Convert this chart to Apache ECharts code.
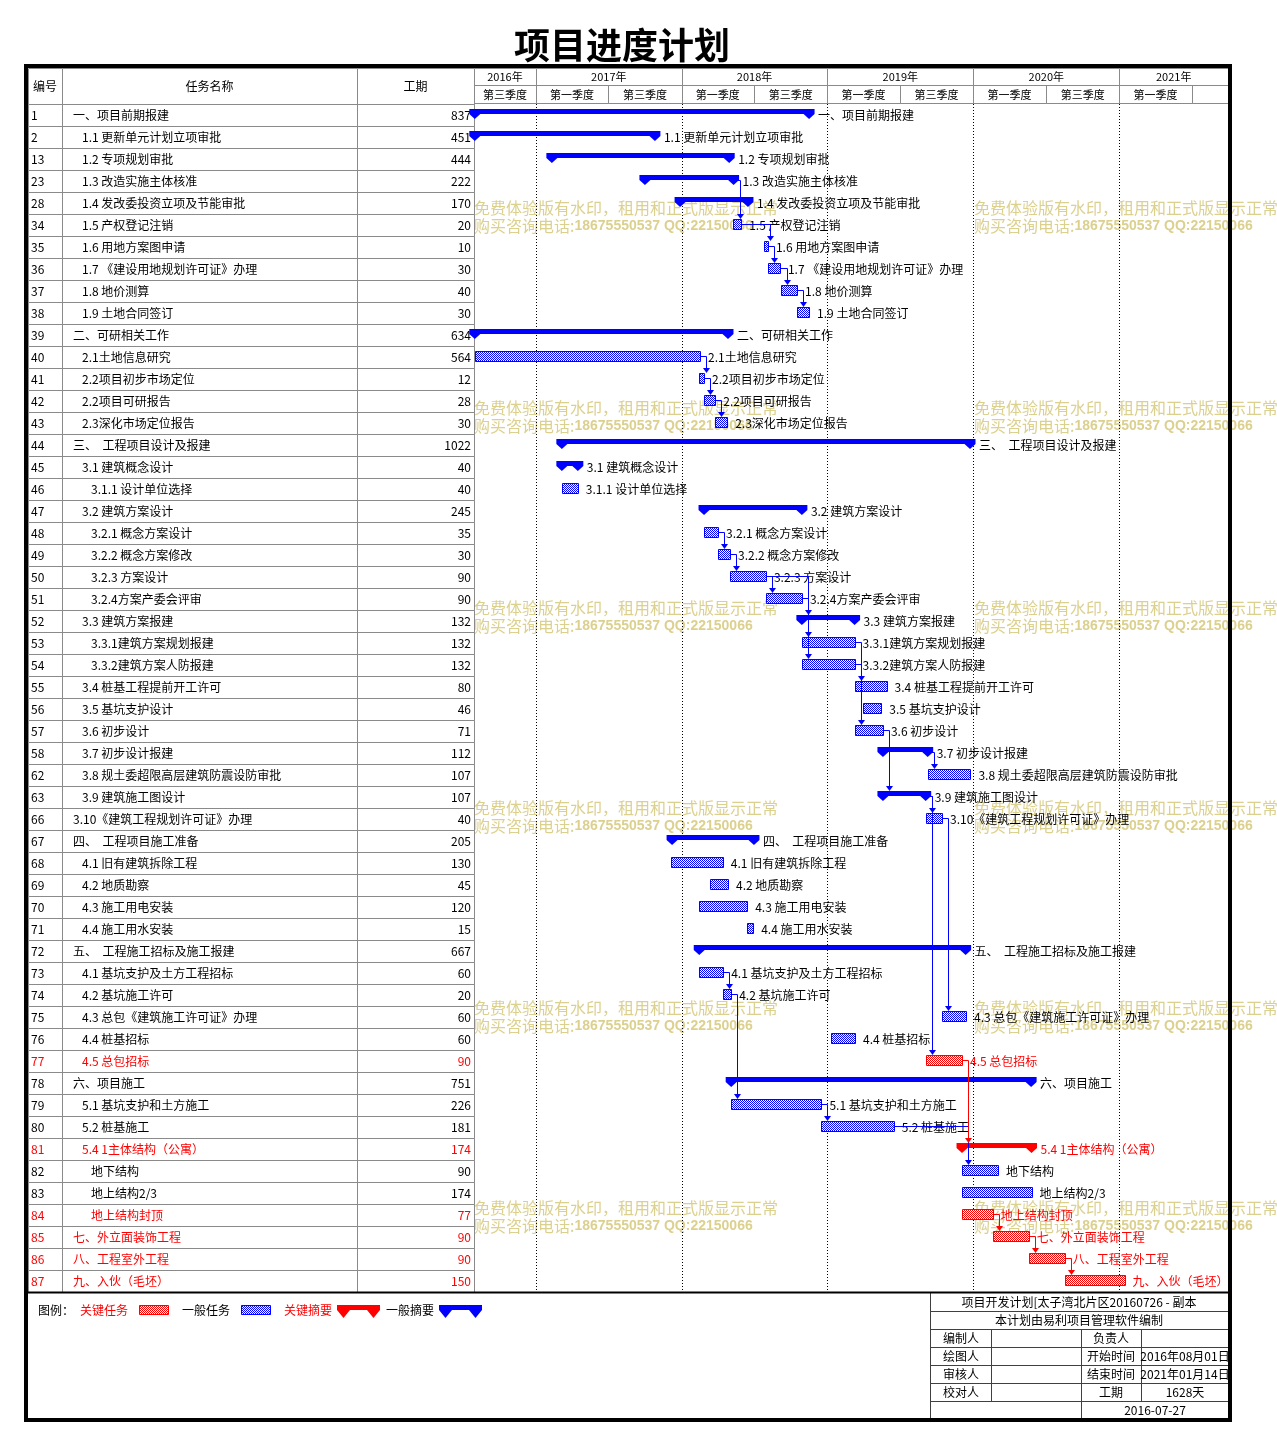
<!DOCTYPE html>
<html><head><meta charset="utf-8">
<script src="https://cdn.jsdelivr.net/npm/echarts@6/dist/echarts.min.js"></script>
<style>html,body{margin:0;padding:0;background:#fff}#c{width:1277px;height:1445px}</style>
</head><body><div id="c"></div>
<script>
// ---------------- DATA ----------------
const ids = [1,2,13,23,28,34,35,36,37,38,39,40,41,42,43,44,45,46,47,48,49,50,51,52,53,54,55,56,57,58,62,63,66,67,68,69,70,71,72,73,74,75,76,77,78,79,80,81,82,83,84,85,86,87];
const names = [
 '一、项目前期报建','1.1 更新单元计划立项审批','1.2 专项规划审批','1.3 改造实施主体核准','1.4 发改委投资立项及节能审批',
 '1.5 产权登记注销','1.6 用地方案图申请','1.7 《建设用地规划许可证》办理','1.8 地价测算','1.9 土地合同签订',
 '二、可研相关工作','2.1土地信息研究','2.2项目初步市场定位','2.2项目可研报告','2.3深化市场定位报告',
 '三、  工程项目设计及报建','3.1 建筑概念设计','3.1.1 设计单位选择','3.2 建筑方案设计','3.2.1 概念方案设计',
 '3.2.2 概念方案修改','3.2.3 方案设计','3.2.4方案产委会评审','3.3 建筑方案报建','3.3.1建筑方案规划报建',
 '3.3.2建筑方案人防报建','3.4 桩基工程提前开工许可','3.5 基坑支护设计','3.6 初步设计','3.7 初步设计报建',
 '3.8 规土委超限高层建筑防震设防审批','3.9 建筑施工图设计','3.10《建筑工程规划许可证》办理','四、  工程项目施工准备','4.1 旧有建筑拆除工程',
 '4.2 地质勘察','4.3 施工用电安装','4.4 施工用水安装','五、  工程施工招标及施工报建','4.1 基坑支护及土方工程招标',
 '4.2 基坑施工许可','4.3 总包《建筑施工许可证》办理','4.4 桩基招标','4.5 总包招标','六、项目施工',
 '5.1 基坑支护和土方施工','5.2 桩基施工','5.4 1主体结构（公寓）','地下结构','地上结构2/3',
 '地上结构封顶','七、外立面装饰工程','八、工程室外工程','九、入伙（毛坯）'
];
const levels = [0,1,1,1,1,1,1,1,1,1, 0,1,1,1,1, 0,1,2,1,2, 2,2,2,1,2, 2,1,1,1,1, 1,1,0,0,1, 1,1,1,0,1, 1,1,1,1,0, 1,1,1,2,2, 2,0,0,0];
const durations = [837,451,444,222,170,20,10,30,40,30, 634,564,12,28,30, 1022,40,40,245,35, 30,90,90,132,132, 132,80,46,71,112, 107,107,40,205,130, 45,120,15,667,60, 20,60,60,90,751, 226,181,174,90,174, 77,90,90,150];
const starts = [
 '2016-08-01','2016-08-01','2017-02-10','2017-10-01','2017-12-28','2018-05-10','2018-07-26','2018-08-05','2018-09-07','2018-10-17',
 '2016-08-01','2016-08-01','2018-02-14','2018-02-26','2018-03-26',
 '2017-03-07','2017-03-07','2017-03-07','2018-02-26','2018-02-26',
 '2018-04-02','2018-05-02','2018-07-31','2018-10-29','2018-10-29',
 '2018-10-29','2019-03-10','2019-03-31','2019-03-10','2019-05-20',
 '2019-09-09','2019-05-20','2019-09-05','2017-12-08','2017-12-05',
 '2018-03-13','2018-02-14','2018-06-14','2018-02-14','2018-02-14',
 '2018-04-15','2019-10-15','2019-01-10','2019-09-05','2018-05-05',
 '2018-05-05','2018-12-17','2019-12-04','2019-12-04','2019-12-04',
 '2019-12-04','2020-02-19','2020-05-19','2020-08-17'
];
// S = summary, T = task
const kinds = ['S','S','S','S','S','T','T','T','T','T', 'S','T','T','T','T', 'S','S','T','S','T', 'T','T','T','S','T', 'T','T','T','T','S', 'T','S','T','S','T', 'T','T','T','S','T', 'T','T','T','T','S', 'T','T','S','T','T', 'T','T','T','T'];
const criticalIds = [77,81,84,85,86,87];
// dependency links, by task id: [predecessor, successor]
const links = [[23,34],[34,35],[35,36],[36,37],[37,38],[40,41],[41,42],[42,43],[48,49],[49,50],[50,51],[50,52],[51,53],[51,54],
 [53,55],[54,57],[57,63],[58,62],[63,66],[63,77],[66,75],[73,74],[74,79],[79,80],[80,82],[77,81],[84,85],[85,86],[86,87]];
const years = [2016,2017,2018,2019,2020,2021];
const yearLabels = ['2016年','2017年','2018年','2019年','2020年','2021年'];
const halfLabels = ['第一季度','第三季度'];
const axisStart = '2016-07-30', axisEnd = '2021-09-30';
const tableHead = ['编号','任务名称','工期'];
const legendItems = ['关键任务','一般任务','关键摘要','一般摘要'];
const infoTitle = '项目开发计划[太子湾北片区20160726 - 副本';
const infoSub = '本计划由易利项目管理软件编制';
const infoRows = [['编制人','负责人',''],['绘图人','开始时间','2016年08月01日'],['审核人','结束时间','2021年01月14日'],['校对人','工期','1628天']];
const infoDate = '2016-07-27';
const wmLine1 = '免费体验版有水印，租用和正式版显示正常';
const wmLine2a = '购买咨询电话:', wmLine2b = '18675550537 QQ:22150066';

// ---------------- HELPERS ----------------
const FONT = '"Noto Sans CJK SC", "Noto Sans", sans-serif';
const DAY = 86400000;
function ts(s){ const p = s.split('-').map(Number); return new Date(p[0], p[1]-1, p[2]).getTime(); }
const T0 = ts(axisStart), T1 = ts(axisEnd);
const isCrit = ids.map(id => criticalIds.indexOf(id) >= 0);
const startTs = starts.map(ts);
const endTs = startTs.map((s,i) => s + durations[i]*DAY);
const rowCats = ids.map(String);
function checker(color){
  const c = document.createElement('canvas'); c.width = 2; c.height = 2;
  const g = c.getContext('2d'); g.fillStyle = '#ffffff'; g.fillRect(0,0,2,2);
  g.fillStyle = color; g.fillRect(0,0,1,1); g.fillRect(1,1,1,1);
  return {image: c, repeat: 'repeat'};
}
const bluePat = checker('#0000ff'), redPat = checker('#ff0000');
const GRAY = '#8a8a8a';

// header cells
const headerCells = [];
years.forEach((y,k) => {
  headerCells.push({s: new Date(y,0,1).getTime(), e: new Date(y+1,0,1).getTime(), level: 0, label: yearLabels[k]});
});
years.forEach(y => {
  headerCells.push({s: new Date(y,0,1).getTime(), e: new Date(y,6,1).getTime(), level: 1, label: halfLabels[0]});
  headerCells.push({s: new Date(y,6,1).getTime(), e: new Date(y+1,0,1).getTime(), level: 1, label: halfLabels[1]});
});
const yearTicks = years.map(y => new Date(y,0,1).getTime()).filter(t => t > T0 && t < T1);

const linkData = links.map(([a,b]) => {
  const i = ids.indexOf(a), j = ids.indexOf(b);
  return [endTs[i], i, startTs[j], j, (isCrit[i] && isCrit[j]) ? 1 : 0];
});

// ---------------- RENDERERS ----------------
function txt(x, y, text, fill, align, size, extra){
  return Object.assign({type:'text', x, y, style:{text, fill, fontSize: size||12, fontFamily: FONT, align: align||'left', verticalAlign:'middle'}}, extra||{});
}
function renderRow(params, api){
  const i = api.value(1);
  const cs = params.coordSys;
  const yc = api.coord([0, i])[1];
  const top = Math.round(yc - 11) + 0.5;
  const L = cs.x;
  const col = isCrit[i] ? '#ff0000' : '#000000';
  const st = {fill: null, stroke: GRAY, lineWidth: 1};
  return {type:'group', children:[
    {type:'rect', shape:{x:L+0.5, y:top, width:34, height:22}, style:st},
    {type:'rect', shape:{x:L+34.5, y:top, width:295, height:22}, style:st},
    {type:'rect', shape:{x:L+329.5, y:top, width:117, height:22}, style:st},
    txt(L+3, yc, String(ids[i]), col, 'left', 12),
    txt(L+45+9*levels[i], yc, names[i], col, 'left', 12),
    txt(L+443, yc, String(durations[i]), col, 'right', 12)
  ]};
}
function renderBar(params, api){
  const i = api.value(2);
  const s = api.coord([api.value(0), i]);
  const e = api.coord([api.value(1), i]);
  const y = s[1];
  const crit = isCrit[i];
  const col = crit ? '#ff0000' : '#0000ff';
  const ch = [];
  if (kinds[i] === 'S'){
    const w = 5.5, t = y-6, b = y-1, tip = y+4;
    ch.push({type:'polygon', shape:{points:[[s[0]-w,t],[e[0]+w,t],[e[0]+w,b],[e[0],tip],[e[0]-w,b],[s[0]+w,b],[s[0],tip],[s[0]-w,b]]}, style:{fill:col}});
    ch.push(txt(e[0]+9, y, names[i], crit ? '#ff0000' : '#000000', 'left', 12));
  } else {
    const x0 = Math.round(s[0]) + 0.5, x1 = Math.round(e[0]) + 0.5;
    ch.push({type:'rect', shape:{x:x0, y:Math.round(y-6)+0.5, width:Math.max(x1-x0,2), height:10}, style:{fill: crit ? redPat : bluePat, stroke: col, lineWidth:1}});
    ch.push(txt(e[0]+8, y, names[i], crit ? '#ff0000' : '#000000', 'left', 12));
  }
  return {type:'group', children: ch};
}
function renderLink(params, api){
  const p = api.coord([api.value(0), api.value(1)]);
  const q = api.coord([api.value(2), api.value(3)]);
  const col = api.value(4) ? '#ff0000' : '#0000ff';
  const xv = Math.round(Math.max(p[0], q[0]) + 6) + 0.5;
  const y1 = Math.round(p[1] - 1) + 0.5;
  const yTip = q[1] - 6;
  return {type:'group', children:[
    {type:'polyline', shape:{points:[[p[0], y1],[xv, y1],[xv, yTip-4]]}, style:{stroke:col, lineWidth:1, fill:null}},
    {type:'polygon', shape:{points:[[xv-3.5, yTip-5],[xv+3.5, yTip-5],[xv, yTip]]}, style:{fill:col}}
  ]};
}
function renderYearLine(params, api){
  const cs = params.coordSys;
  const x = Math.round(api.coord([api.value(0), 0])[0]) + 0.5;
  return {type:'line', shape:{x1:x, y1:cs.y, x2:x, y2:cs.y+cs.height}, style:{stroke:'#000', lineWidth:1, lineDash:[1,2]}};
}
function renderHeader(params, api){
  const cs = params.coordSys;
  const cell = headerCells[params.dataIndex];
  let x1 = api.coord([cell.s, 0])[0], x2 = api.coord([cell.e, 0])[0];
  x1 = Math.max(x1, cs.x); x2 = Math.min(x2, cs.x + cs.width);
  if (x2 - x1 < 1) return null;
  const top = cell.level === 0 ? cs.y : cs.y + 17;
  const h = cell.level === 0 ? 17 : 18;
  const rx = Math.round(x1) + 0.5, rw = Math.round(x2) - Math.round(x1);
  const ch = [{type:'rect', shape:{x:rx, y:top+0.5, width:rw, height:h}, style:{fill:null, stroke:GRAY, lineWidth:1}}];
  if (x2 - x1 > 50) ch.push(txt((x1+x2)/2, top + h/2 + 0.5, cell.label, '#000', 'center', 11));
  return {type:'group', children: ch};
}

// ---------------- GRAPHICS (layout) ----------------
const g = [];
// watermarks
[208, 408, 608, 808, 1008, 1208].forEach(y => {
  [474, 974].forEach(x => {
    g.push({type:'text', x, y, z:0, style:{text:wmLine1, fill:'#dcd08e', fontSize:16, fontFamily:FONT, verticalAlign:'middle'}});
    g.push({type:'text', x, y:y+18, z:0, style:{text:'{a|'+wmLine2a+'}{b|'+wmLine2b+'}', verticalAlign:'middle', rich:{
      a:{fill:'#dcd08e', fontSize:16, fontFamily:FONT}, b:{fill:'#dcd08e', fontSize:14, fontWeight:'bold', fontFamily:'"Liberation Sans", Arial, sans-serif'}}}});
  });
});
// table header
[[28,34],[62,295],[357,117]].forEach(([x,w],k) => {
  g.push({type:'rect', z:5, shape:{x:x+0.5, y:68.5, width:w, height:36}, style:{fill:null, stroke:GRAY, lineWidth:1}});
  g.push({type:'text', z:5, x:x+w/2, y:86, style:{text:tableHead[k], fill:'#000', fontSize:12, fontFamily:FONT, align:'center', verticalAlign:'middle'}});
});
// bottom line of table/chart
g.push({type:'line', z:6, shape:{x1:28, y1:1292.5, x2:1228, y2:1292.5}, style:{stroke:'#000', lineWidth:2}});
// legend
g.push({type:'text', z:5, x:38, y:1310, style:{text:'图例：', fill:'#000', fontSize:12, fontFamily:FONT, verticalAlign:'middle'}});
g.push({type:'text', z:5, x:80, y:1310, style:{text:legendItems[0], fill:'#ff0000', fontSize:12, fontFamily:FONT, verticalAlign:'middle'}});
g.push({type:'rect', z:5, shape:{x:139.5, y:1305.5, width:29, height:9}, style:{fill:redPat, stroke:'#ff0000', lineWidth:1}});
g.push({type:'text', z:5, x:182, y:1310, style:{text:legendItems[1], fill:'#000', fontSize:12, fontFamily:FONT, verticalAlign:'middle'}});
g.push({type:'rect', z:5, shape:{x:241.5, y:1305.5, width:29, height:9}, style:{fill:bluePat, stroke:'#0000ff', lineWidth:1}});
g.push({type:'text', z:5, x:284, y:1310, style:{text:legendItems[2], fill:'#ff0000', fontSize:12, fontFamily:FONT, verticalAlign:'middle'}});
g.push({type:'text', z:5, x:386, y:1310, style:{text:legendItems[3], fill:'#000', fontSize:12, fontFamily:FONT, verticalAlign:'middle'}});
function sumShape(x0, x1, col){
  const w = 6.5, t = 1305, b = 1310, tip = 1318, s = x0 + w, e = x1 - w;
  return {type:'polygon', z:5, shape:{points:[[s-w,t],[e+w,t],[e+w,b],[e,tip],[e-w,b],[s+w,b],[s,tip],[s-w,b]]}, style:{fill:col}};
}
g.push(sumShape(337, 380, '#ff0000'));
g.push(sumShape(439, 482, '#0000ff'));
// info block
const IS = {stroke:'#404040', lineWidth:1};
g.push({type:'line', z:5, shape:{x1:930.5, y1:1293, x2:930.5, y2:1420}, style:IS});
[1311,1329,1347,1365,1383,1401].forEach(y => g.push({type:'line', z:5, shape:{x1:930, y1:y+0.5, x2:1228, y2:y+0.5}, style:IS}));
g.push({type:'line', z:5, shape:{x1:991.5, y1:1329, x2:991.5, y2:1401}, style:IS});
g.push({type:'line', z:5, shape:{x1:1141.5, y1:1329, x2:1141.5, y2:1401}, style:IS});
g.push({type:'line', z:5, shape:{x1:1081.5, y1:1329, x2:1081.5, y2:1420}, style:IS});
function itx(x, y, t){ return {type:'text', z:5, x, y, style:{text:t, fill:'#000', fontSize:12, fontFamily:FONT, align:'center', verticalAlign:'middle'}}; }
g.push(itx(1079, 1302, infoTitle));
g.push(itx(1079, 1320, infoSub));
infoRows.forEach((r,k) => {
  const y = 1338 + 18*k;
  g.push(itx(961, y, r[0])); g.push(itx(1111, y, r[1])); if (r[2]) g.push(itx(1185, y, r[2]));
});
g.push(itx(1155, 1410, infoDate));
// outer frame
g.push({type:'rect', z:50, shape:{x:26, y:66, width:1204, height:1354}, style:{fill:null, stroke:'#000', lineWidth:4}});

// ---------------- OPTION ----------------
const chart = echarts.init(document.getElementById('c'), null, {renderer:'canvas'});
chart.setOption({
  animation: false,
  backgroundColor: '#ffffff',
  title: {text:'项目进度计划', left:509, top:22, textStyle:{fontSize:36, fontWeight:'bold', color:'#000', fontFamily:FONT}},
  grid: [
    {left:28, top:104, width:446, height:1188},
    {left:474, top:104, width:754, height:1188},
    {left:474, top:68, width:754, height:36}
  ],
  xAxis: [
    {gridIndex:0, type:'value', min:0, max:1, show:false},
    {gridIndex:1, type:'time', min:T0, max:T1, show:false},
    {gridIndex:2, type:'time', min:T0, max:T1, show:false}
  ],
  yAxis: [
    {gridIndex:0, type:'category', data:rowCats, inverse:true, show:false},
    {gridIndex:1, type:'category', data:rowCats, inverse:true, show:false},
    {gridIndex:2, type:'value', min:0, max:2, show:false}
  ],
  series: [
    {type:'custom', name:'table', xAxisIndex:0, yAxisIndex:0, z:3, renderItem:renderRow, encode:{x:0, y:1},
     data: ids.map((id,i) => [0, i]), silent:true},
    {type:'custom', name:'years', xAxisIndex:1, yAxisIndex:1, z:1, renderItem:renderYearLine, encode:{x:0, y:1},
     data: yearTicks.map(t => [t, 0]), silent:true},
    {type:'custom', name:'header', xAxisIndex:2, yAxisIndex:2, z:3, renderItem:renderHeader, encode:{x:[0,1], y:2},
     data: headerCells.map(c => [c.s, c.e, c.level]), silent:true, clip:false},
    {type:'custom', name:'bars', xAxisIndex:1, yAxisIndex:1, z:4, renderItem:renderBar, encode:{x:[0,1], y:2},
     data: ids.map((id,i) => [startTs[i], endTs[i], i]), silent:true, clip:false},
    {type:'custom', name:'links', xAxisIndex:1, yAxisIndex:1, z:5, renderItem:renderLink, encode:{x:[0,2], y:[1,3]},
     data: linkData, silent:true, clip:false}
  ],
  graphic: g
});
</script>
</body></html>
